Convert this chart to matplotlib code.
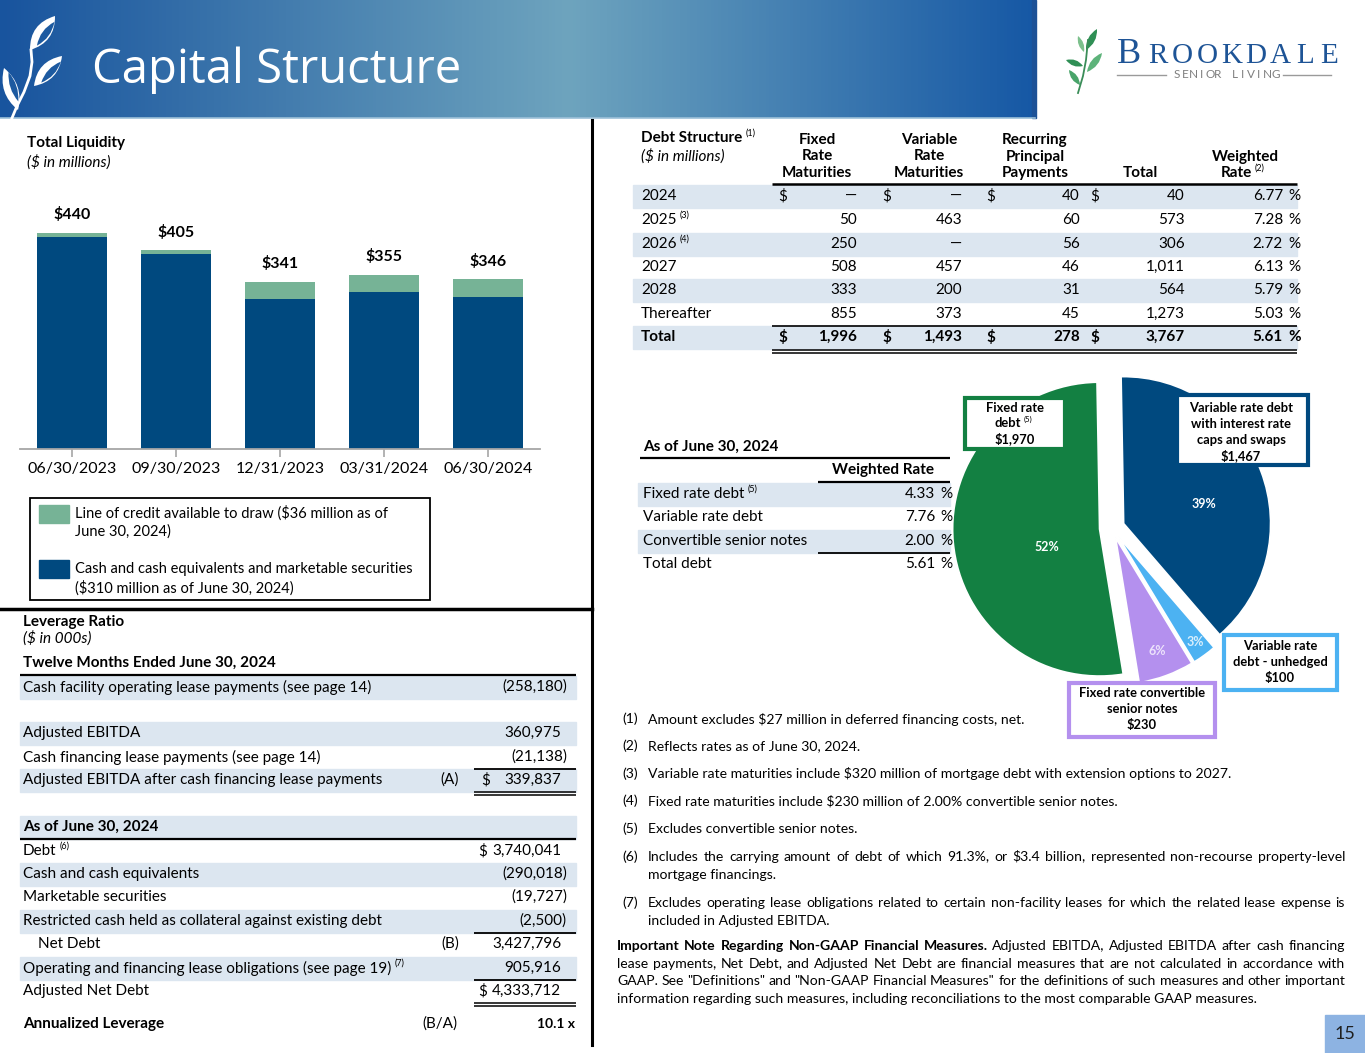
import matplotlib.pyplot as plt
from matplotlib.patches import Rectangle, PathPatch
from matplotlib.path import Path
import numpy as np

plt.rcParams['text.parse_math'] = False

# ---- data ----
dates = ['06/30/2023', '09/30/2023', '12/31/2023', '03/31/2024', '06/30/2024']
cash = [432, 397, 306, 320, 310]
credit = [8, 8, 35, 35, 36]

years = ['2024', '2025', '2026', '2027', '2028', 'Thereafter']
year_notes = ['', '(3)', '(4)', '', '', '']
fixed_mat = [None, 50, 250, 508, 333, 855]
var_mat = [None, 463, None, 457, 200, 373]
recurring = [40, 60, 56, 46, 31, 45]
wtd_rate = [6.77, 7.28, 2.72, 6.13, 5.79, 5.03]
wtd_total = 5.61

wr_labels = ['Fixed rate debt', 'Variable rate debt', 'Convertible senior notes', 'Total debt']
wr_notes = ['(5)', '', '', '']
wr_values = [4.33, 7.76, 2.00, 5.61]

pie_labels = ['Variable rate debt\nwith interest rate\ncaps and swaps', 'Variable rate\ndebt - unhedged',
              'Fixed rate convertible\nsenior notes', 'Fixed rate\ndebt']
pie_values = [1467, 100, 230, 1970]

ttm_labels = ['Cash facility operating lease payments (see page 14)', None, 'Adjusted EBITDA',
              'Cash financing lease payments (see page 14)',
              'Adjusted EBITDA after cash financing lease payments']
ttm_values = [-258180, None, 360975, -21138, 339837]

asof_labels = ['Debt', 'Cash and cash equivalents', 'Marketable securities',
               'Restricted cash held as collateral against existing debt', 'Net Debt',
               'Operating and financing lease obligations (see page 19)', 'Adjusted Net Debt']
asof_notes = ['(6)', '', '', '', '', '(7)', '']
asof_values = [3740041, -290018, -19727, -2500, 3427796, 905916, 4333712]

footnotes = [
    ('(1)', ['Amount excludes $27 million in deferred financing costs, net.']),
    ('(2)', ['Reflects rates as of June 30, 2024.']),
    ('(3)', ['Variable rate maturities include $320 million of mortgage debt with extension options to 2027.']),
    ('(4)', ['Fixed rate maturities include $230 million of 2.00% convertible senior notes.']),
    ('(5)', ['Excludes convertible senior notes.']),
    ('(6)', ['Includes the carrying amount of debt of which 91.3%, or $3.4 billion, represented non-recourse property-level',
             'mortgage financings.']),
    ('(7)', ['Excludes operating lease obligations related to certain non-facility leases for which the related lease expense is',
             'included in Adjusted EBITDA.']),
]
note_bold = 'Important Note Regarding Non-GAAP Financial Measures.'
note_lines = ['Adjusted EBITDA, Adjusted EBITDA after cash financing',
              'lease payments, Net Debt, and Adjusted Net Debt are financial measures that are not calculated in accordance with',
              'GAAP. See "Definitions" and "Non-GAAP Financial Measures" for the definitions of such measures and other important',
              'information regarding such measures, including reconciliations to the most comparable GAAP measures.']

# ---- style ----
DARK = '#00497f'
LGREEN = '#76b396'
PGREEN = '#138042'
LBLUE = '#4cb2f2'
LAV = '#b490ee'
SHADE = '#dce6f0'
BODY = ['Lato', 'DejaVu Sans']
plt.rcParams['font.family'] = BODY

W, H = 1365, 1053
fig = plt.figure(figsize=(13.65, 10.53), dpi=100)


def box(x, y, w, h):
    return [x / W, 1 - (y + h) / H, w / W, h / H]


# ---- bar chart ----
axb = fig.add_axes(box(20, 200, 520, 249))
xs = np.arange(len(dates))
axb.bar(xs, cash, width=0.68, color=DARK)
axb.bar(xs, credit, bottom=cash, width=0.68, color=LGREEN)
for xi, c, k in zip(xs, cash, credit):
    axb.annotate(f'${c + k}', (xi, c + k), xytext=(0, 13), textcoords='offset points',
                 ha='center', va='center', fontsize=11.5, fontweight='bold')
axb.set_xlim(-0.5, 4.5)
axb.set_ylim(0, 507)
for s in ['top', 'left', 'right']:
    axb.spines[s].set_visible(False)
axb.spines['bottom'].set_color('#a6a6a6')
axb.spines['bottom'].set_linewidth(1.3)
axb.set_yticks([])
axb.set_xticks(xs, dates)
axb.tick_params(axis='x', length=6, width=1.2, color='#a6a6a6', labelsize=11.5, pad=3)

# ---- pie ----
axp = fig.add_axes(box(921, 337, 382, 382))
wedges, _, pcts = axp.pie(pie_values, colors=[DARK, LBLUE, LAV, PGREEN], startangle=91,
                          counterclock=False, explode=[0.085, 0.07, 0.07, 0.085],
                          autopct=lambda p: f'{p:.0f}%',
                          wedgeprops=dict(edgecolor='white', linewidth=1.2),
                          textprops=dict(fontsize=9, fontweight='bold'))
axp.set_xlim(-1.3, 1.3)
axp.set_ylim(-1.3, 1.3)
for w, t, d, dth, col in zip(wedges, pcts, [0.56, 0.89, 0.82, 0.38], [-7, 0, 0, 14],
                             ['white', '#d8eefc', '#ece2fb', 'white']):
    th = np.deg2rad((w.theta1 + w.theta2) / 2 + dth)
    cx, cy = w.center
    t.set_position((cx + d * np.cos(th), cy + d * np.sin(th)))
    t.set_color(col)

# ---- overlay ----
ax = fig.add_axes([0, 0, 1, 1])
ax.axis('off')
renderer = fig.canvas.get_renderer()

# banner
stops = np.array([0, 0.55, 1.0])
cols = np.array([[24, 84, 158], [110, 164, 190], [22, 88, 165]]) / 255
g = np.linspace(0, 1, 300)
grad = np.stack([np.interp(g, stops, cols[:, i]) for i in range(3)], axis=-1)[None, :, :]
ax.imshow(grad, extent=(0, 1035, 118, 0), aspect='auto', zorder=0)
ax.set_xlim(0, W)
ax.set_ylim(H, 0)
ax.add_patch(Rectangle((1032, 0), 4, 118, color='#1d5196', zorder=1))
ax.plot([0, 1035], [118, 118], color='#9cc0d8', lw=1.2, zorder=1)
ax.text(92, 70, 'Capital Structure', color='white', fontsize=34, family=['Open Sans', 'DejaVu Sans'],
        va='center', ha='left')


def leaf(base, tip, width, color, z=2):
    b, t = np.array(base, float), np.array(tip, float)
    d = t - b
    n = np.array([-d[1], d[0]]) / np.hypot(*d)
    m = b + d * 0.5
    verts = [b, m + n * width, t, m - n * width, b]
    codes = [Path.MOVETO, Path.CURVE3, Path.CURVE3, Path.CURVE3, Path.CURVE3]
    ax.add_patch(PathPatch(Path(verts, codes), facecolor=color, edgecolor='none', zorder=z))


# left leaf icon: white leaves with a blue inner cut
for base, tip, wd in [((30, 50), (55, 16), 16), ((34, 86), (62, 56), 15), ((18, 110), (4, 68), 14)]:
    leaf(base, tip, wd, 'white')
    b, t = np.array(base, float), np.array(tip, float)
    dd = t - b
    nn = np.array([-dd[1], dd[0]]) / np.hypot(*dd)
    leaf(b + dd * 0.18 + nn * 3, t - dd * 0.12 + nn * 3, wd * 0.45, '#1d5aa0', z=2.5)
ax.plot([12, 17, 24, 30, 32, 31], [118, 106, 92, 76, 62, 50], color='white', lw=2, zorder=2)

# logo
for base, tip, wd, c in [((1086, 50), (1097, 29), 7, '#2f8f55'), ((1084, 52), (1078, 36), 5, '#7cc08c'),
                         ((1087, 72), (1102, 53), 7, '#5db37a'), ((1083, 66), (1066, 60), 6, '#2f8f55'),
                         ((1080, 85), (1069, 70), 6, '#49a46a')]:
    leaf(base, tip, wd, c)
ax.plot([1088, 1086, 1083, 1078], [40, 60, 76, 93], color='#3a8d58', lw=1.3)
ax.text(1117, 63, 'B', fontsize=26, family=['Liberation Serif'], color='#1e5496', va='baseline')
for i, ch in enumerate('ROOKDALE'):
    ax.text(1158 + i * 24.5, 63, ch, fontsize=21, family=['Liberation Serif'], color='#1e5496',
            va='baseline', ha='center')
for i, ch in enumerate('SENIOR LIVING'):
    ax.text(1177 + i * 8.2, 75, ch, fontsize=8.5, color='#7f7f7f', ha='center', va='center')
ax.plot([1117, 1166], [75, 75], color='#9a9a9a', lw=1)
ax.plot([1283, 1331], [75, 75], color='#9a9a9a', lw=1)

# dividers
ax.plot([592, 592], [120, 1045], color='black', lw=2.2)
ax.plot([0, 592], [609, 609], color='black', lw=2.5)


def txt(x, y, s, size=11, ha='left', note='', **kw):
    t = ax.text(x, y, s, fontsize=size, ha=ha, va='center', **kw)
    if note:
        bb = t.get_window_extent(renderer)
        kw.pop('fontweight', None)
        kw.pop('style', None)
        ax.text(bb.x1 + 3, y - size * 0.42, note, fontsize=size * 0.58, ha='left', va='center', **kw)
    return t


def justify(x0, x1, y, tokens, size):
    ts = [ax.text(0, y + size * 0.36, w, fontsize=size, fontweight=wt, va='baseline') for w, wt in tokens]
    ws = [t.get_window_extent(renderer).width for t in ts]
    gap = (x1 - x0 - sum(ws)) / (len(ts) - 1)
    x = x0
    for t, w in zip(ts, ws):
        t.set_x(x)
        x += w + gap


def hline(x0, x1, y, lw=1.0, color='black'):
    ax.plot([x0, x1], [y, y], color=color, lw=lw, solid_capstyle='butt')


def fmt(v):
    return f'({abs(v):,})' if v < 0 else f'{v:,}'


# liquidity titles and legend
txt(27, 143, 'Total Liquidity', 11, fontweight='bold')
txt(27, 162, '($ in millions)', 11, style='italic')
ax.add_patch(Rectangle((30, 498), 400, 102, facecolor='white', edgecolor='black', lw=1.3))
ax.add_patch(Rectangle((39, 505), 30, 18, color=LGREEN))
ax.add_patch(Rectangle((39, 560), 30, 18, color=DARK))
txt(75, 513, 'Line of credit available to draw ($36 million as of', 10.5)
txt(75, 532, 'June 30, 2024)', 10.5)
txt(75, 569, 'Cash and cash equivalents and marketable securities', 10.5)
txt(75, 588, '($310 million as of June 30, 2024)', 10.5)

# ---- debt structure table ----
txt(641, 138, 'Debt Structure', 11, note='(1)', fontweight='bold')
txt(641, 156, '($ in millions)', 11, style='italic')
heads = [(817, ['Fixed', 'Rate', 'Maturities']), (929, ['Variable', 'Rate', 'Maturities']),
         (1035, ['Recurring', 'Principal', 'Payments']), (1140, ['Total'])]
for cx, lines in heads:
    for i, l in enumerate(reversed(lines)):
        txt(cx, 173 - 16.5 * i, l, 11, ha='center', fontweight='bold')
txt(1245, 157, 'Weighted', 11, ha='center', fontweight='bold')
txt(1236, 173, 'Rate', 11, ha='center', note='(2)', fontweight='bold')
hline(772, 1297, 184, lw=1.8)

row_y = [196, 220, 244, 267, 290, 314, 337]
totals = [sum(v or 0 for v in r) for r in zip(fixed_mat, var_mat, recurring)]
for i, y in enumerate(row_y):
    if i % 2 == 0:
        ax.add_patch(Rectangle((633, y - 11.5), 664, 23, color=SHADE, zorder=0.5))
rights = [857, 962, 1080, 1185]
dollars = [778, 882, 986, 1090]
for i in range(len(years)):
    y = row_y[i]
    txt(641, y, years[i], 11, note=year_notes[i])
    vals = [fixed_mat[i], var_mat[i], recurring[i], totals[i]]
    for r, v in zip(rights, vals):
        txt(r, y, '—' if v is None else f'{v:,}', 11, ha='right')
    txt(1283, y, f'{wtd_rate[i]:.2f}', 11, ha='right')
    txt(1288, y, '%', 11)
    if i == 0:
        for d in dollars:
            txt(d, y, '$', 11)
yt = row_y[-1]
txt(641, yt, 'Total', 11, fontweight='bold')
col_tot = [sum(v or 0 for v in fixed_mat), sum(v or 0 for v in var_mat), sum(recurring), sum(totals)]
for r, d, v in zip(rights, dollars, col_tot):
    txt(r, yt, f'{v:,}', 11, ha='right', fontweight='bold')
    txt(d, yt, '$', 11, fontweight='bold')
txt(1283, yt, f'{wtd_total:.2f}', 11, ha='right', fontweight='bold')
txt(1288, yt, '%', 11, fontweight='bold')
hline(772, 1297, 326, lw=1.2)
hline(772, 1297, 349.5, lw=1.1)
hline(772, 1297, 352.5, lw=1.1)

# ---- weighted rate table ----
txt(643, 447, 'As of June 30, 2024', 11, fontweight='bold')
hline(640, 950, 458, lw=1.6)
txt(883, 470, 'Weighted Rate', 11, ha='center', fontweight='bold')
hline(818, 950, 482, lw=1.6)
wr_y = [494, 517, 541, 564]
for i, y in enumerate(wr_y):
    if i % 2 == 0 and i < 3:
        ax.add_patch(Rectangle((638, y - 11.5), 312, 23, color=SHADE, zorder=0.5))
    txt(643, y, wr_labels[i], 11, note=wr_notes[i])
    txt(935, y, f'{wr_values[i]:.2f}', 11, ha='right')
    txt(940, y, '%', 11)
hline(818, 950, 552.5, lw=1.3)

# ---- pie label boxes ----
pie_rects = [(1175, 393, 135, 74), (1222, 633, 117, 59), (1067, 681, 150, 58), (963, 396, 104, 55)]
pie_edge = [DARK, LBLUE, LAV, PGREEN]
pie_cx = [1241, 1280, 1142, 1015]
pie_ly = [[408, 424, 440, 456], [646, 662, 678], [693, 709, 725], [408, 423, 439]]
for (bx, by, bw, bh), c, cx, ly, lab, val in zip(pie_rects, pie_edge, pie_cx, pie_ly,
                                                pie_labels, pie_values):
    ax.add_patch(Rectangle((bx + 2, by + 2), bw - 4, bh - 4, facecolor='white', edgecolor=c, lw=3, zorder=3))
    lines = lab.split('\n') + [f'${val:,}']
    for l, y in zip(lines, ly):
        note = '(5)' if l == 'debt' else ''
        t = ax.text(cx - (7 if note else 0), y, l, fontsize=9.3, fontweight='bold', ha='center',
                    va='center', zorder=4)
        if note:
            bb = t.get_window_extent(renderer)
            ax.text(bb.x1 + 2, y - 4, note, fontsize=5.5, va='center', zorder=4)

# ---- leverage ratio ----
txt(23, 622, 'Leverage Ratio', 11, fontweight='bold')
txt(23, 638, '($ in 000s)', 11, style='italic')
txt(23, 663, 'Twelve Months Ended June 30, 2024', 11, fontweight='bold')
hline(20, 576, 674.5, lw=1.6)
ttm_y = [687, 710, 733, 757, 780]
for i, y in enumerate(ttm_y):
    if ttm_labels[i] is None:
        continue
    if i in (0, 2, 4):
        ax.add_patch(Rectangle((20, y - 11.5), 556, 23, color=SHADE, zorder=0.5))
    txt(23, y, ttm_labels[i], 11)
    v = ttm_values[i]
    txt(567 if v < 0 else 561, y, fmt(v), 11, ha='right')
txt(450, 780, '(A)', 11, ha='center')
txt(481, 780, '$', 11)
hline(474, 576, 769, lw=1.3)
hline(474, 576, 791.5, lw=1.1)
hline(474, 576, 794.5, lw=1.1)

ax.add_patch(Rectangle((20, 815.5), 556, 23, color=SHADE, zorder=0.5))
txt(23, 827, 'As of June 30, 2024', 11, fontweight='bold')
hline(20, 576, 839, lw=1.6)
asof_y = [851, 874, 897, 921, 944, 968, 991]
for i, y in enumerate(asof_y):
    if i in (1, 3, 5):
        ax.add_patch(Rectangle((20, y - 11.5), 556, 23, color=SHADE, zorder=0.5))
    txt(38 if asof_labels[i] == 'Net Debt' else 23, y, asof_labels[i], 11, note=asof_notes[i])
    v = asof_values[i]
    txt(567 if v < 0 else 561, y, fmt(v), 11, ha='right')
for y in (851, 991):
    txt(478, y, '$', 11)
txt(450, 944, '(B)', 11, ha='center')
hline(474, 576, 932.5, lw=1.3)
hline(474, 576, 979.5, lw=1.3)
hline(474, 576, 1002.5, lw=1.1)
hline(474, 576, 1005.5, lw=1.1)
lev = asof_values[4] / ttm_values[4]
txt(23, 1024, 'Annualized Leverage', 11, fontweight='bold')
txt(440, 1024, '(B/A)', 11, ha='center')
txt(575, 1024, f'{lev:.1f} x', 10, ha='right', fontweight='bold')

# ---- footnotes ----
FS = 10.1
fn_y = [719, 746, 774, 801, 829, 857, 903]
for (num, lines), y in zip(footnotes, fn_y):
    txt(622, y, num, FS)
    for j, l in enumerate(lines):
        if j < len(lines) - 1:
            justify(648, 1345, y, [(w, 'normal') for w in l.split(' ')], FS)
        else:
            txt(648, y + 18 * j, l, FS)
note_y = [946, 964, 981, 999]
for j, l in enumerate(note_lines):
    toks = [(w, 'normal') for w in l.split(' ')]
    if j == 0:
        toks = [(w, 'bold') for w in note_bold.split(' ')] + toks
    if j < len(note_lines) - 1:
        justify(617, 1345, note_y[j], toks, FS)
    else:
        txt(617, note_y[j], l, FS)

# page number
ax.add_patch(Rectangle((1325, 1015), 40, 38, color='#8db3e2', zorder=1))
txt(1345, 1034, '15', 13, ha='center', color='#1f1f1f')

fig.savefig('out.png', dpi=100)
